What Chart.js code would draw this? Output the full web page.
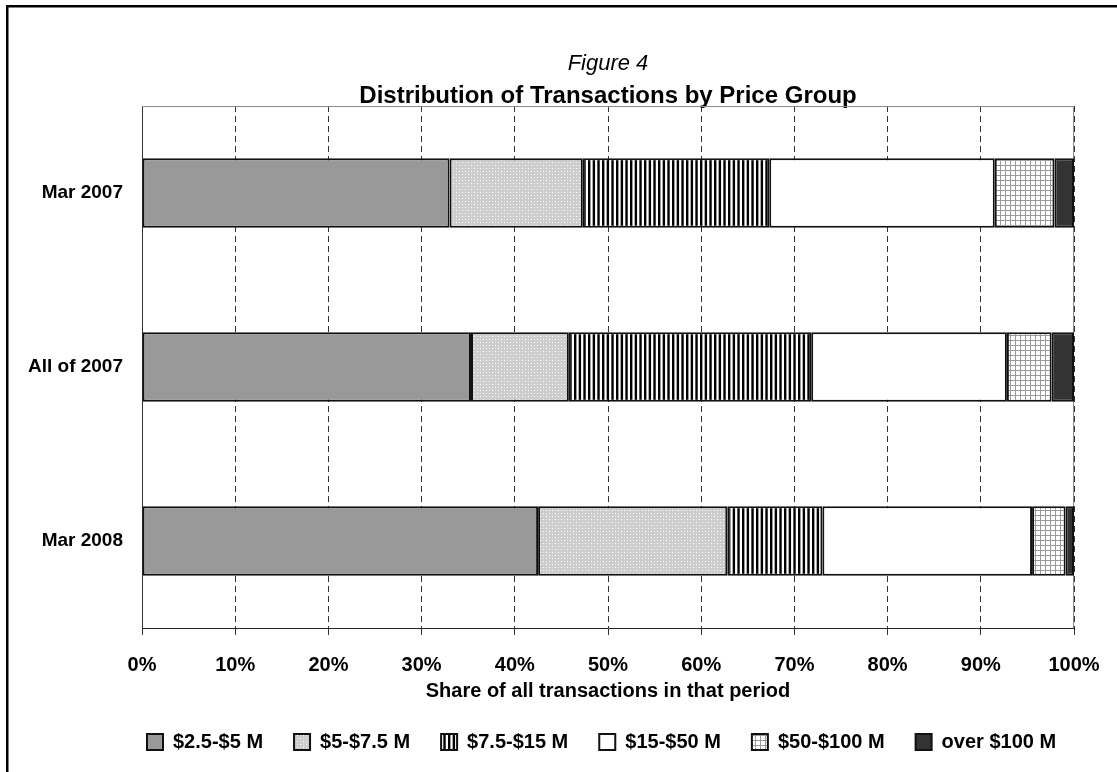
<!DOCTYPE html>
<html>
<head>
<meta charset="utf-8">
<title>Distribution of Transactions by Price Group</title>
<script src="https://cdn.jsdelivr.net/npm/chart.js@4.4.1/dist/chart.umd.min.js"></script>
<style>
  html, body { margin: 0; padding: 0; background: #fff; }
  canvas { display: block; }
</style>
</head>
<body>
<canvas id="chart" width="1117" height="772"></canvas>
<script>
const periods = ['Mar 2007', 'All of 2007', 'Mar 2008']
const priceGroups = ['$2.5-$5 M', '$5-$7.5 M', '$7.5-$15 M', '$15-$50 M', '$50-$100 M', 'over $100 M']

// share of all transactions (%) in each price group, one value per period
const share2p5to5M = [33.0, 35.3, 42.5]
const share5to7p5M = [14.3, 10.5, 20.3]
const share7p5to15M = [20.0, 26.0, 10.2]
const share15to50M = [24.2, 21.0, 22.5]
const share50to100M = [6.4, 4.8, 3.6]
const shareOver100M = [2.1, 2.4, 0.9]

const percentTicks = [0, 10, 20, 30, 40, 50, 60, 70, 80, 90, 100]

const FONT = '"Liberation Sans", Arial, sans-serif'

// small repeating tiles for the hatched fills
function tile(w, h, paint) {
    const c = document.createElement('canvas')
    c.width = w
    c.height = h
    const g = c.getContext('2d')
    paint(g)
    return g.createPattern(c, 'repeat')
}

const dotted = tile(6, 6, g => {
    g.fillStyle = '#cdcdcd'
    g.fillRect(0, 0, 6, 6)
    g.fillStyle = '#ffffff'
    g.fillRect(0, 0, 1, 1)
    g.fillRect(3, 3, 1, 1)
    g.fillStyle = '#e6e6e6'
    g.fillRect(3, 0, 1, 1)
    g.fillRect(0, 3, 1, 1)
})

const stripes = tile(14, 4, g => {
    g.fillStyle = '#ffffff'
    g.fillRect(0, 0, 14, 4)
    g.fillStyle = '#000000'
    g.fillRect(0, 0, 2.4, 4)
    g.fillRect(4.67, 0, 2.4, 4)
    g.fillRect(9.33, 0, 2.4, 4)
})

const grid = tile(5, 5, g => {
    g.fillStyle = '#ffffff'
    g.fillRect(0, 0, 5, 5)
    g.fillStyle = '#9a9a9a'
    g.fillRect(0, 0, 5, 1)
    g.fillRect(0, 0, 1, 5)
})

const fills = ['#999999', dotted, stripes, '#ffffff', grid, '#333333']
const series = [share2p5to5M, share5to7p5M, share7p5to15M, share15to50M, share50to100M, shareOver100M]

const datasets = priceGroups.map((label, i) => ({
    label,
    data: series[i],
    backgroundColor: fills[i],
    borderColor: '#111111',
    borderWidth: 2,
    borderSkipped: false,
    categoryPercentage: 1,
    barPercentage: 0.4
}))

// white page with the black frame around it
const framePlugin = {
    id: 'frame',
    beforeDraw(chart) {
        const ctx = chart.ctx
        ctx.save()
        ctx.fillStyle = '#fff'
        ctx.fillRect(0, 0, chart.width, chart.height)
        ctx.strokeStyle = '#000'
        ctx.lineWidth = 2.5
        ctx.strokeRect(7.25, 6.25, chart.width + 50, chart.height + 50)
        ctx.restore()
    }
}

// the y labels are wider than the axis box, so widen its clip to the page edge
const labelRoomPlugin = {
    id: 'labelRoom',
    afterLayout(chart) {
        chart.scales.y.left = 0
    }
}

// thin grey edge along the top and right of the plot
const plotEdgePlugin = {
    id: 'plotEdge',
    beforeDatasetsDraw(chart) {
        const {ctx, chartArea: a} = chart
        ctx.save()
        ctx.strokeStyle = '#8a8a8a'
        ctx.lineWidth = 1
        ctx.beginPath()
        ctx.moveTo(a.left, a.top + 0.5)
        ctx.lineTo(a.right - 0.5, a.top + 0.5)
        ctx.lineTo(a.right - 0.5, a.bottom)
        ctx.stroke()
        ctx.restore()
    }
}

new Chart(document.getElementById('chart'), {
    type: 'bar',
    data: {labels: periods, datasets},
    plugins: [framePlugin, labelRoomPlugin, plotEdgePlugin],
    options: {
        responsive: false,
        animation: false,
        indexAxis: 'y',
        layout: {padding: {left: 116, right: 0, top: 53, bottom: 10}},
        plugins: {
            title: {
                display: true,
                fullSize: false,
                text: 'Figure 4',
                color: '#000',
                font: {family: FONT, size: 22, style: 'italic', weight: 'normal', lineHeight: 1},
                padding: 0
            },
            subtitle: {
                display: true,
                fullSize: false,
                text: 'Distribution of Transactions by Price Group',
                color: '#000',
                font: {family: FONT, size: 24, weight: 'bold', lineHeight: 1},
                padding: {top: 9, bottom: -2}
            },
            legend: {
                position: 'bottom',
                align: 'start',
                labels: {
                    color: '#000',
                    font: {family: FONT, size: 20, weight: 'bold'},
                    boxWidth: 16,
                    boxHeight: 16,
                    padding: 31
                }
            },
            tooltip: {enabled: false}
        },
        scales: {
            x: {
                stacked: true,
                min: 0,
                max: 100,
                afterBuildTicks: scale => {
                    scale.ticks = percentTicks.map(v => ({value: v}))
                },
                afterFit: scale => {
                    scale.height = 73
                    scale.paddingLeft = 0
                    scale.paddingRight = 43
                },
                ticks: {
                    color: '#000',
                    font: {family: FONT, size: 20, weight: 'bold'},
                    padding: 18,
                    maxRotation: 0,
                    callback: v => v + '%'
                },
                grid: {
                    color: '#333',
                    lineWidth: 1,
                    tickLength: 7,
                    tickColor: '#333'
                },
                border: {display: true, color: '#222', width: 1, dash: [6, 4]},
                title: {
                    display: true,
                    text: 'Share of all transactions in that period',
                    color: '#000',
                    font: {family: FONT, size: 20, weight: 'bold', lineHeight: 1},
                    padding: {top: 4, bottom: 0}
                }
            },
            y: {
                stacked: true,
                afterFit: scale => {
                    scale.width = 26
                },
                ticks: {
                    color: '#000',
                    font: {family: FONT, size: 19, weight: 'bold'},
                    padding: 19
                },
                grid: {display: false, drawTicks: false},
                border: {display: true, color: '#333', width: 1}
            }
        }
    }
})
</script>
</body>
</html>
